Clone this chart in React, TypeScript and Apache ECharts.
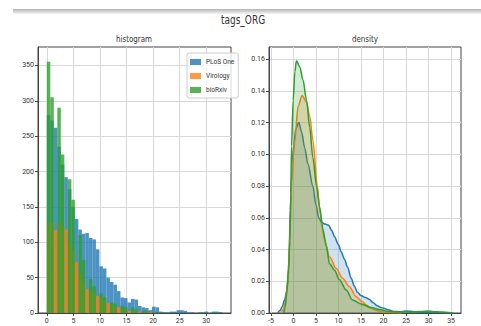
import React, { useEffect, useRef } from "react";
import * as echarts from "echarts";

const TITLE = "tags_ORG";
const SUBTITLES = ["histogram", "density"];
const SERIES_NAMES = ["PLoS One", "Virology", "bioRxiv"];
const COLORS = ["#1f77b4", "#ff7f0e", "#2ca02c"];
const HIST_FILLS = ["rgba(31,119,180,0.8)", "rgba(255,127,14,0.8)", "rgba(44,160,44,0.8)"];
const DENS_FILLS = ["rgba(31,119,180,0.3)", "rgba(255,127,14,0.3)", "rgba(44,160,44,0.3)"];

// histogram: 50 bins over [0, 33]
const HIST_MIN = 0;
const HIST_MAX = 33;
const HIST_BINS = 50;

const PLOS_BIN_COUNTS = [
  280, 272, 262, 235, 210, 192, 175, 150, 133, 118,
  112, 113, 106, 104, 90, 66, 63, 50, 44, 40,
  31, 22, 21, 15, 20, 19, 10, 8, 7, 4,
  9, 8, 2, 1, 1, 2, 2, 4, 4, 3,
  1, 1, 0, 0, 1, 2, 0, 2, 2, 1,
];
const VIROLOGY_BIN_COUNTS = [
  128, 127, 117, 128, 124, 118, 100, 88, 72, 55,
  44, 34, 31, 28, 24, 21, 17, 14, 12, 10,
  8, 6, 5, 3, 3, 2, 2, 1, 1, 1,
  1, 0, 0, 0, 0, 0, 0, 0, 0, 0,
  0, 0, 0, 0, 0, 0, 0, 0, 0, 0,
];
const BIORXIV_VALUES = [
  0, 1, 2, 3, 4, 5, 6, 7, 8, 9, 10, 11, 12, 13, 14, 15, 16,
  17, 18, 19, 20, 21, 22, 23, 24, 25, 26, 27, 28, 29, 30, 31, 32, 33,
];
const BIORXIV_COUNTS = [
  355, 305, 290, 224, 189, 160, 110, 75, 48, 38, 28, 22, 15, 13, 10, 8, 8,
  5, 3, 3, 2, 1, 1, 0, 0, 0, 0, 0, 0, 1, 1, 0, 0, 1,
];

const HIST_X_TICKS = [0, 5, 10, 15, 20, 25, 30];
const HIST_Y_TICKS = [0, 50, 100, 150, 200, 250, 300, 350];
const DENS_X_TICKS = [-5, 0, 5, 10, 15, 20, 25, 30, 35];
const DENS_Y_TICKS = [0, 0.02, 0.04, 0.06, 0.08, 0.1, 0.12, 0.14, 0.16];

const PLOS_DENSITY = [
  [-3.5, 0], [-3, 0.0015], [-2.5, 0.004], [-2, 0.008], [-1.5, 0.014], [-1.2, 0.022],
  [-1, 0.035], [-0.7, 0.065], [-0.4, 0.088], [0, 0.104], [0.5, 0.116], [1.2, 0.12],
  [1.8, 0.114], [2.5, 0.104], [3.2, 0.094], [4.3, 0.08], [5, 0.068], [5.6, 0.06],
  [6.3, 0.057], [7, 0.056], [7.8, 0.0553], [8.5, 0.052], [9.1, 0.048], [10, 0.043],
  [10.6, 0.0386], [11.3, 0.034], [12, 0.029], [12.8, 0.022], [13.5, 0.017], [14.2, 0.013],
  [15, 0.011], [16, 0.0097], [16.8, 0.0086], [17.7, 0.0065], [18.6, 0.0045], [19.4, 0.0035],
  [20.1, 0.003], [21, 0.002], [22.3, 0.001], [23.5, 0.0008], [25, 0.0012], [26, 0.0011],
  [27, 0.0008], [28.5, 0.0004], [30, 0.0005], [31.5, 0.0006], [33, 0.0004], [35.3, 0],
];
const VIROLOGY_DENSITY = [
  [-2.8, 0], [-2.3, 0.002], [-1.8, 0.007], [-1.2, 0.021], [-0.8, 0.05], [-0.44, 0.082],
  [0, 0.1], [0.3, 0.109], [1, 0.13], [1.9, 0.137], [2.9, 0.133], [3.6, 0.124],
  [4.3, 0.109], [5.3, 0.08], [5.9, 0.063], [6.9, 0.046], [8, 0.0355], [9.5, 0.028],
  [10.9, 0.0219], [12.4, 0.0166], [13.9, 0.0103], [15.3, 0.0071], [16.2, 0.005],
  [17.2, 0.003], [18.3, 0.0018], [19.4, 0.001], [21.6, 0.0003], [24, 0],
];
const BIORXIV_DENSITY = [
  [-2.2, 0], [-1.9, 0.003], [-1.5, 0.012], [-1.1, 0.028], [-0.8, 0.045], [-0.6, 0.075],
  [-0.44, 0.105], [-0.07, 0.134], [0.3, 0.152], [0.66, 0.159], [1.4, 0.155], [2.1, 0.147],
  [2.9, 0.134], [3.6, 0.117], [4.3, 0.098], [5.1, 0.08], [5.8, 0.067], [6.5, 0.053],
  [7.3, 0.042], [8, 0.031], [9.1, 0.027], [10.2, 0.021], [11.7, 0.0145], [13.1, 0.0082],
  [15, 0.0057], [17.2, 0.0034], [19.4, 0.002], [21, 0.001], [23, 0.0007], [26, 0.0005],
  [28.5, 0.001], [30, 0.0012], [31.5, 0.0008], [33, 0.0004], [35, 0.0002], [35.5, 0],
];

const FONT = "'DejaVu Sans', sans-serif";
const NARROW = "Roboto, 'DejaVu Sans', sans-serif";

function buildBinned(counts: number[]) {
  const w = (HIST_MAX - HIST_MIN) / HIST_BINS;
  return counts.map((c, i) => [HIST_MIN + i * w, HIST_MIN + (i + 1) * w, c]);
}
function buildFromValues(values: number[], counts: number[]) {
  const w = (HIST_MAX - HIST_MIN) / HIST_BINS;
  return values.map((v, j) => {
    const i = Math.min(HIST_BINS - 1, Math.floor((v - HIST_MIN) / w + 1e-9));
    return [HIST_MIN + i * w, HIST_MIN + (i + 1) * w, counts[j]];
  });
}

const renderBar = (fill: string) => (_params: any, api: any) => {
  const x0 = api.value(0);
  const x1 = api.value(1);
  const h = api.value(2);
  if (!h) return null;
  const a = api.coord([x0, h]);
  const b = api.coord([x1, 0]);
  return {
    type: "rect",
    shape: { x: a[0], y: a[1], width: b[0] - a[0], height: b[1] - a[1] },
    style: { fill },
  };
};

const axisCommon = {
  axisLine: { show: true, onZero: false, lineStyle: { color: "#444", width: 1 } },
  axisTick: { show: true, length: 3, lineStyle: { color: "#444" } },
  splitLine: { show: true, lineStyle: { color: "#d8d8d8", width: 1 } },
};

export default function App() {
  const ref = useRef<HTMLDivElement>(null);
  useEffect(() => {
    if (!ref.current) return;
    const chart = echarts.init(ref.current, undefined, { renderer: "svg" });
    const labelStyle = { fontSize: 7, color: "#333", fontFamily: NARROW };
    const histData = [
      buildBinned(PLOS_BIN_COUNTS),
      buildBinned(VIROLOGY_BIN_COUNTS),
      buildFromValues(BIORXIV_VALUES, BIORXIV_COUNTS),
    ];
    const densData = [PLOS_DENSITY, VIROLOGY_DENSITY, BIORXIV_DENSITY];
    chart.setOption({
      animation: false,
      backgroundColor: "#ffffff",
      graphic: [
        {
          type: "rect",
          shape: { x: 13, y: 9, width: 468, height: 5 },
          style: {
            fill: new echarts.graphic.LinearGradient(0, 0, 0, 1, [
              { offset: 0, color: "#b4b4b4" },
              { offset: 1, color: "#f4f4f4" },
            ]),
          },
        },
        {
          type: "text", x: 243, y: 20, scaleX: 0.72,
          style: { text: TITLE, fontSize: 12.5, fill: "#333", align: "center", verticalAlign: "middle", fontFamily: FONT },
        },
        {
          type: "text", x: 134, y: 39, scaleX: 0.75,
          style: { text: SUBTITLES[0], fontSize: 9.5, fill: "#333", align: "center", verticalAlign: "middle", fontFamily: FONT },
        },
        {
          type: "text", x: 365, y: 39, scaleX: 0.75,
          style: { text: SUBTITLES[1], fontSize: 9.5, fill: "#333", align: "center", verticalAlign: "middle", fontFamily: FONT },
        },
      ],
      legend: {
        data: SERIES_NAMES.map((n, i) => ({ name: n, itemStyle: { color: HIST_FILLS[i] } })),
        orient: "vertical",
        left: 187,
        top: 53,
        icon: "rect",
        itemWidth: 11,
        itemHeight: 6,
        itemGap: 4,
        padding: [4, 4, 3, 3],
        borderColor: "#cccccc",
        borderWidth: 1,
        borderRadius: 2,
        backgroundColor: "rgba(255,255,255,0.8)",
        textStyle: { fontSize: 6.5, color: "#333", fontFamily: NARROW, lineHeight: 10 },
      },
      grid: [
        { left: 38, top: 47, width: 193, height: 266, show: true, borderColor: "#444", borderWidth: 1 },
        { left: 269, top: 47, width: 192, height: 266, show: true, borderColor: "#444", borderWidth: 1 },
      ],
      xAxis: [
        {
          type: "value", gridIndex: 0, min: -1.65, max: 34.65,
          ...axisCommon,
          axisTick: { ...axisCommon.axisTick, customValues: HIST_X_TICKS },
          axisLabel: { ...labelStyle, customValues: HIST_X_TICKS, margin: 4 },
        },
        {
          type: "value", gridIndex: 1, min: -5.44, max: 37.2,
          ...axisCommon,
          axisTick: { ...axisCommon.axisTick, customValues: DENS_X_TICKS },
          axisLabel: { ...labelStyle, customValues: DENS_X_TICKS, margin: 4 },
        },
      ],
      yAxis: [
        {
          type: "value", gridIndex: 0, min: 0, max: 376,
          ...axisCommon,
          axisTick: { ...axisCommon.axisTick, customValues: HIST_Y_TICKS },
          axisLabel: { ...labelStyle, customValues: HIST_Y_TICKS, margin: 4 },
        },
        {
          type: "value", gridIndex: 1, min: 0, max: 0.1676,
          ...axisCommon,
          axisTick: { ...axisCommon.axisTick, customValues: DENS_Y_TICKS },
          axisLabel: { ...labelStyle, customValues: DENS_Y_TICKS, margin: 4, formatter: (v: number) => v.toFixed(2) },
        },
      ],
      series: [
        ...SERIES_NAMES.map((name, i) => ({
          name,
          type: "custom",
          xAxisIndex: 0,
          yAxisIndex: 0,
          itemStyle: { color: HIST_FILLS[i] },
          encode: { x: [0, 1], y: 2 },
          data: histData[i],
          renderItem: renderBar(HIST_FILLS[i]),
          z: 2 + i,
        })),
        ...SERIES_NAMES.map((name, i) => ({
          name: name + " density",
          type: "line",
          xAxisIndex: 1,
          yAxisIndex: 1,
          data: densData[i],
          showSymbol: false,
          smooth: 0.3,
          smoothMonotone: "x",
          lineStyle: { color: COLORS[i], width: 1.5 },
          itemStyle: { color: COLORS[i] },
          areaStyle: { color: DENS_FILLS[i], origin: "start" },
          z: 2 + i,
        })),
      ],
    });
    return () => chart.dispose();
  }, []);
  return (
    <div
      ref={ref}
      style={{ position: "fixed", left: 0, top: 0, width: 481, height: 326 }}
    />
  );
}
